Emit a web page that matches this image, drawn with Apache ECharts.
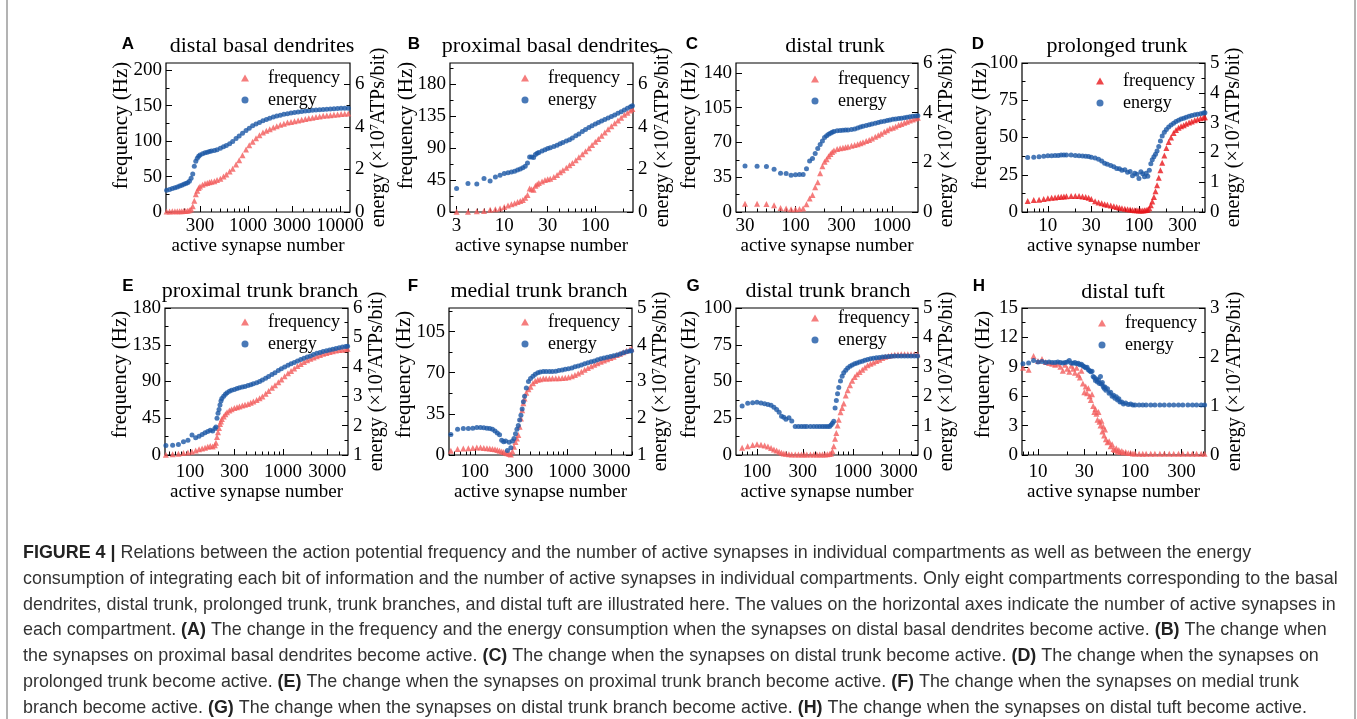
<!DOCTYPE html>
<html>
<head>
<meta charset="utf-8">
<title>Figure 4</title>
<style>
html, body { margin: 0; padding: 0; background: #fff; }
#main { width: 1357px; height: 719px; }
</style>
</head>
<body>
<div id="main"></div>
<script src="https://cdn.jsdelivr.net/npm/echarts@6/dist/echarts.min.js"></script>
<script>
// ---- data ----
var panelLetters = ['A', 'B', 'C', 'D', 'E', 'F', 'G', 'H'];
var panelTitles = ['distal basal dendrites', 'proximal basal dendrites', 'distal trunk', 'prolonged trunk',
    'proximal trunk branch', 'medial trunk branch', 'distal trunk branch', 'distal tuft'];

// A distal basal dendrites
var nA = [130,140,150,160,170,180,190,200,210,220,230,240,250,260,270,280,290,300,320,340,360,380,400,430,460,500,540,580,630,680,740,800,870,950,1030,1120,1220,1330,1450,1580,1720,1880,2050,2240,2450,2680,2930,3200,3500,3830,4190,4580,5010,5480,6000,6560,7180,7850,8590,9400,10280,11250,12300];
var freqA = [0.8,0.8,0.9,1.0,1.0,1.1,1.2,1.4,1.5,1.8,2.3,4,8,16,25,30,34,36,38.5,40,41,42,42.5,43.5,45,47,50,53,57,61,67,73,80,88,94,99,104,108,112,114.5,116.5,119,121,123,124.5,126,127,128,129,130,131,132,133,134,134.5,135.5,136,136.5,137,137.5,138,138.5,139];
var energyA = [1.02,1.06,1.10,1.14,1.18,1.22,1.26,1.30,1.34,1.38,1.45,1.58,1.78,2.15,2.38,2.52,2.62,2.68,2.74,2.78,2.81,2.84,2.86,2.89,2.93,2.99,3.06,3.13,3.21,3.31,3.45,3.57,3.70,3.83,3.94,4.05,4.13,4.21,4.29,4.35,4.41,4.46,4.51,4.55,4.59,4.62,4.65,4.68,4.70,4.72,4.74,4.76,4.78,4.79,4.80,4.82,4.83,4.84,4.85,4.86,4.87,4.88,4.88];

// B proximal basal dendrites
var nB = [3,4,5,6,7,8,9,10,11,12,13,14,15,16,17,18,19,20,21,22,23,24,26,28,30,32,35,38,41,44,48,52,56,61,66,72,78,85,92,100,108,117,127,138,150,163,177,192,208,225,243,255];
var freqB = [0.5,0.5,1,1.5,3,4,5,7,9,11,12.5,14,15.5,17,20,24,33,32,31.5,37,39,41,43,45,46,47,49.5,52,56,59,62.5,66,69,73,77,81.5,85.5,90,94.5,99,103,107.5,112,116.5,121,125,129,133,137,140,143,145];
var energyB = [1.10,1.34,1.31,1.57,1.46,1.65,1.73,1.81,1.84,1.88,1.92,1.97,2.02,2.08,2.15,2.30,2.58,2.58,2.56,2.70,2.76,2.80,2.86,2.93,2.98,3.02,3.08,3.14,3.21,3.27,3.33,3.40,3.48,3.58,3.67,3.78,3.87,3.97,4.05,4.13,4.20,4.28,4.35,4.42,4.49,4.56,4.64,4.71,4.79,4.87,4.95,4.99];

// C distal trunk
var nC = [30,40,50,60,70,80,90,100,110,120,130,140,150,160,170,180,190,200,210,220,230,240,250,270,290,310,330,350,380,410,440,470,500,540,580,620,670,720,770,830,890,950,1020,1090,1170,1250,1340,1430,1530,1640,1750,1850];
var freqC = [8.4,8.4,8.0,6.7,4.0,3.4,2.7,2.7,3.0,3.4,7.8,13.5,17,25,30,39,46,50.5,53,56,58.5,60.5,62,63.5,64.3,64.8,65.3,65.8,66.8,67.4,68.3,69.3,70.3,71.5,72.5,74,75.8,77.3,78.8,80.8,82.4,84,84.8,86,87.5,88.7,89.8,90.9,92.1,93.1,94.1,95];
var energyC = [1.85,1.84,1.83,1.72,1.56,1.55,1.48,1.50,1.51,1.51,1.74,2.05,2.15,2.36,2.56,2.72,2.86,3.0,3.07,3.13,3.17,3.21,3.24,3.27,3.28,3.29,3.30,3.30,3.32,3.34,3.38,3.42,3.45,3.48,3.51,3.54,3.57,3.60,3.63,3.65,3.68,3.70,3.73,3.75,3.77,3.78,3.80,3.82,3.84,3.86,3.87,3.88];

// D prolonged trunk
var nD = [5,6,7,8,9,10,11,12,13,14,15,16,18,20,22,24,26,28,30,33,36,39,42,45,49,53,57,61,65,70,75,80,85,90,95,100,105,110,115,120,125,130,135,140,146,152,158,165,172,180,190,200,212,225,240,255,272,290,310,330,355,380,410,440,475,510,530];
var freqD = [6,7.4,8,8.3,8.8,9.2,9.5,9.7,10,10.2,10.4,10.6,10.8,10.8,10.7,10.4,10.0,9.5,8.8,7.2,6.4,5.8,5.2,4.8,4.3,3.8,3.3,2.9,2.5,2.1,1.8,1.6,1.3,1.2,1.1,1.0,1.0,1.0,1.1,1.3,1.5,2.5,4.5,7,10,14,18,23,28,33,38,43,47,50,53,55,56.5,57.5,58.3,59.2,60,60.8,61.6,62.3,62.9,63.4,63.6];
var energyD = [1.80,1.83,1.84,1.85,1.87,1.89,1.89,1.90,1.90,1.91,1.91,1.91,1.91,1.90,1.89,1.88,1.87,1.86,1.84,1.81,1.77,1.71,1.64,1.60,1.56,1.52,1.46,1.45,1.40,1.42,1.33,1.36,1.22,1.30,1.27,1.12,1.35,1.28,1.18,1.30,1.20,1.40,1.62,1.75,1.85,1.94,2.05,2.20,2.38,2.55,2.68,2.77,2.85,2.92,2.98,3.04,3.08,3.12,3.15,3.18,3.21,3.24,3.26,3.28,3.30,3.32,3.33];

// E proximal trunk branch
var nE = [55,65,75,85,95,105,115,125,135,145,155,165,175,185,190,195,200,205,210,215,220,230,240,250,265,280,300,320,340,365,390,420,450,480,520,560,600,650,700,760,820,890,960,1040,1130,1220,1320,1430,1550,1680,1820,1970,2130,2310,2500,2700,2930,3170,3430,3710,4020,4350,4710,4950];
var freqE = [0.4,1.0,1.5,2.3,3.0,4.0,5.5,7.0,8.0,9.0,10.0,11.0,10.5,12.0,15,22,28,33,38,41,44,47,50,52.5,54.5,56,57.5,58.5,59.5,60.5,61.5,62.5,64,65.5,67.5,69.5,71.5,75,78.5,82.5,85.5,89,92.5,96.5,100,103,106,109,111.5,114,116,118,119.5,121,122.5,124,125,126,127,128,128.5,129,129.5,130];
var energyE = [1.32,1.33,1.36,1.45,1.50,1.68,1.59,1.64,1.70,1.76,1.80,1.84,1.82,1.90,1.95,2.25,2.42,2.55,2.70,2.84,2.92,3.00,3.07,3.12,3.17,3.20,3.23,3.26,3.29,3.31,3.33,3.36,3.39,3.42,3.46,3.50,3.55,3.61,3.67,3.74,3.80,3.87,3.93,3.99,4.05,4.10,4.15,4.20,4.25,4.29,4.33,4.37,4.42,4.46,4.49,4.52,4.55,4.57,4.60,4.62,4.65,4.67,4.69,4.70];

// F medial trunk branch
var nF = [55,65,75,85,95,105,115,125,135,145,155,165,175,185,195,205,215,225,235,245,255,265,275,285,295,305,315,325,335,345,360,380,400,425,450,480,510,550,590,640,690,750,810,880,950,1030,1120,1210,1310,1420,1540,1670,1810,1960,2120,2300,2490,2700,2930,3170,3440,3730,4040,4380,4750,4950];
var freqF = [3.7,5.1,5.6,5.7,5.9,6.3,6.3,6.0,5.8,5.5,5.1,4.8,4.3,3.6,3.0,2.5,2.0,1.4,0.9,0.5,3.0,7,11,14,17,24,31,38,44,48,53,56,58,61,63,64,64.5,65,65,65,65.2,65.2,65.3,65.4,65.6,66.2,67,68,69.2,70.8,72.5,74,75.5,76.8,78,79.3,80.4,81.4,82.4,83.6,85,86.2,87.4,88.6,89.7,90.3];
var energyF = [1.56,1.70,1.72,1.72,1.73,1.75,1.75,1.74,1.73,1.72,1.70,1.65,1.60,1.55,1.40,1.36,1.38,1.12,1.35,1.20,1.38,1.45,1.58,1.70,1.80,1.95,2.08,2.25,2.45,2.60,2.82,3.00,3.08,3.14,3.20,3.24,3.26,3.27,3.27,3.27,3.27,3.28,3.30,3.31,3.33,3.35,3.37,3.40,3.42,3.45,3.48,3.51,3.54,3.56,3.59,3.62,3.64,3.66,3.68,3.70,3.72,3.75,3.78,3.81,3.83,3.84];

// G distal trunk branch
var nG = [60,70,80,90,100,110,120,130,140,150,160,170,180,190,200,215,230,250,270,290,310,330,360,390,420,450,480,510,540,570,590,610,630,650,670,690,710,740,770,800,840,880,930,980,1040,1100,1170,1250,1330,1420,1520,1630,1750,1880,2020,2170,2340,2520,2720,2940,3180,3440,3720,4020,4350,4700];
var freqG = [5.7,5.0,6.0,6.8,7.3,7.0,6.4,5.8,4.8,3.8,3.0,2.2,1.6,1.0,0.8,0.5,0.4,0.4,0.4,0.4,0.4,0.4,0.4,0.4,0.4,0.4,0.4,0.4,0.5,0.6,1.0,2.5,6,11,15,20,24,29,32,35,40.5,44,47.5,50.5,53,55,56.5,58,59.5,61,62,63,64,64.8,66,66.8,67.4,67.9,68.2,68.4,68.5,68.5,68.5,68.5,68.5,68.5];
var energyG = [1.70,1.67,1.76,1.78,1.79,1.77,1.74,1.72,1.69,1.62,1.55,1.45,1.32,1.28,1.22,1.27,1.16,0.97,0.97,0.97,0.97,0.97,0.97,0.97,0.97,0.97,0.97,0.97,0.97,0.97,1.02,1.08,1.15,1.60,1.85,2.08,2.30,2.52,2.68,2.80,2.88,2.96,3.02,3.06,3.10,3.13,3.16,3.19,3.22,3.25,3.27,3.29,3.31,3.32,3.33,3.34,3.35,3.36,3.37,3.37,3.37,3.37,3.37,3.37,3.37,3.37];

// H distal tuft
var nH = [7,8,9,10,11,12,13,14,15,16,17,18,19,20,21,22,23,24,25,26,27,28,29,30,31,32,33,34,35,36,37,38,39,40,41,42,43,44,45,46,47,48,49,50,52,54,56,58,60,62,64,66,68,70,73,76,80,85,90,95,100,110,120,130,145,160,180,200,225,250,280,310,350,390,430,480,520];
var freqH = [8.9,8.7,10.1,9.6,9.8,9.5,9.4,9.3,9.2,9.3,9.0,8.6,9.2,8.8,8.5,9.1,8.8,8.4,8.9,8.2,7.9,8.6,7.3,6.4,7.0,6.3,6.8,6.0,5.6,6.2,5.0,4.4,4.7,4.2,3.6,4.4,3.4,3.0,3.5,2.4,2.9,2.0,2.6,1.6,1.3,1.4,0.9,1.1,0.6,0.5,0.7,0.35,0.5,0.3,0.4,0.25,0.3,0.2,0.2,0.15,0.15,0.12,0.12,0.12,0.12,0.12,0.12,0.12,0.12,0.12,0.12,0.12,0.12,0.12,0.12,0.12,0.12];
var energyH = [1.86,1.88,1.93,1.90,1.91,1.89,1.90,1.89,1.89,1.90,1.89,1.88,1.89,1.90,1.93,1.88,1.87,1.89,1.86,1.87,1.84,1.85,1.82,1.80,1.78,1.79,1.74,1.72,1.70,1.71,1.60,1.58,1.52,1.55,1.49,1.53,1.46,1.60,1.45,1.48,1.40,1.36,1.39,1.32,1.35,1.26,1.28,1.20,1.22,1.16,1.19,1.12,1.15,1.08,1.08,1.04,1.06,1.03,1.04,1.02,1.02,1.02,1.02,1.02,1.02,1.02,1.02,1.02,1.02,1.02,1.02,1.02,1.02,1.02,1.02,1.02,1.02];

var panelN = [nA, nB, nC, nD, nE, nF, nG, nH];
var panelFreq = [freqA, freqB, freqC, freqD, freqE, freqF, freqG, freqH];
var panelEnergy = [energyA, energyB, energyC, energyD, energyE, energyF, energyG, energyH];

// axes
var xRanges = [[128, 12840], [2.54, 259], [24.2, 1857], [5.2, 531], [53.8, 5000], [52.5, 5010], [60.4, 4750], [6.84, 525]];
var xTickLabels = [[300, 1000, 3000, 10000], [3, 10, 30, 100], [30, 100, 300, 1000], [10, 30, 100, 300],
    [100, 300, 1000, 3000], [100, 300, 1000, 3000], [100, 300, 1000, 3000], [10, 30, 100, 300]];
var freqRanges = [[0, 210], [0, 210], [0, 150], [0, 100], [0, 180], [0, 125], [0, 100], [0, 15]];
var freqTickLabels = [[0, 50, 100, 150, 200], [0, 45, 90, 135, 180], [0, 35, 70, 105, 140], [0, 25, 50, 75, 100],
    [0, 45, 90, 135, 180], [0, 35, 70, 105], [0, 25, 50, 75, 100], [0, 3, 6, 9, 12, 15]];
var energyRanges = [[0, 7], [0, 7], [0, 6], [0, 5], [1, 6], [1, 5], [0, 5], [0, 3]];
var energyTickLabels = [[0, 2, 4, 6], [0, 2, 4, 6], [0, 2, 4, 6], [0, 1, 2, 3, 4, 5],
    [1, 2, 3, 4, 5, 6], [1, 2, 3, 4, 5], [0, 1, 2, 3, 4, 5], [0, 1, 2, 3]];

var captionLines = [
    '{b|FIGURE 4 |} Relations between the action potential frequency and the number of active synapses in individual compartments as well as between the energy',
    'consumption of integrating each bit of information and the number of active synapses in individual compartments. Only eight compartments corresponding to the basal',
    'dendrites, distal trunk, prolonged trunk, trunk branches, and distal tuft are illustrated here. The values on the horizontal axes indicate the number of active synapses in',
    'each compartment. {b|(A)} The change in the frequency and the energy consumption when the synapses on distal basal dendrites become active. {b|(B)} The change when',
    'the synapses on proximal basal dendrites become active. {b|(C)} The change when the synapses on distal trunk become active. {b|(D)} The change when the synapses on',
    'prolonged trunk become active. {b|(E)} The change when the synapses on proximal trunk branch become active. {b|(F)} The change when the synapses on medial trunk',
    'branch become active. {b|(G)} The change when the synapses on distal trunk branch become active. {b|(H)} The change when the synapses on distal tuft become active.'
];

// ---- layout (pixels) ----
var boxes = [[166, 63, 184, 149], [450, 63, 183, 149], [736, 63, 182, 149], [1022, 63, 183, 149],
    [165, 308, 183, 147], [449, 308, 183, 147], [736, 308, 182, 147], [1022, 308, 183, 147]];
var titlePos = [[262, 46], [550, 46], [835, 46], [1117, 46], [260, 291], [539, 291], [828, 291], [1123, 292]];
var letterPos = [[128, 44], [414, 44], [692, 44], [978, 44], [128, 286], [413, 286], [693, 286], [979, 286]];
var legendIconPos = [[245, 69], [525, 69], [815, 70], [1100, 72], [245, 313], [525, 313], [815, 309], [1102, 314]];
var leftNameGap = [34, 33, 36, 31, 34, 34, 36, 28];
var leftNameLift = [24, 24, 24, 24, 14, 14, 14, 14];
var rightNameGap = [17, 20, 17, 18, 19, 18, 17, 20];

var SERIF = "'Liberation Serif', 'Times New Roman', serif";
var SANS = "'Liberation Sans', Arial, sans-serif";
var RED = '#f25c5c', RED_D = '#e8161c', BLUE = '#1c57a5';

function minorLog(lo, hi, majors) {
    var out = [];
    for (var d = Math.floor(Math.log10(lo)); d <= Math.ceil(Math.log10(hi)); d++) {
        for (var m = 1; m <= 9; m++) {
            var v = m * Math.pow(10, d);
            if (v > lo && v < hi && majors.indexOf(v) < 0) out.push(Math.log10(v));
        }
    }
    return out;
}
function minorLin(ticks, max) {
    var step = ticks[1] - ticks[0], out = [];
    for (var v = ticks[0] + step / 2; v < max - 1e-9; v += step) out.push(v);
    return out;
}
function logLabel(v) { return String(Math.round(Math.pow(10, v))); }

var grids = [], xAxes = [], yAxes = [], series = [], legends = [], graphics = [];
var tickLine = { color: '#000', width: 1 };

for (var i = 0; i < 8; i++) {
    var b = boxes[i];
    var row2 = i >= 4;
    grids.push({ left: b[0], top: b[1], width: b[2], height: b[3], show: true,
        borderColor: '#000', borderWidth: 1.2, backgroundColor: 'transparent' });

    var xmin = Math.log10(xRanges[i][0]), xmax = Math.log10(xRanges[i][1]);
    var xMaj = xTickLabels[i].map(Math.log10);
    var xi = xAxes.length;
    xAxes.push({
        gridIndex: i, type: 'value', position: 'bottom', min: xmin, max: xmax,
        name: 'active synapse number', nameLocation: 'middle', nameGap: row2 ? 25 : 21,
        nameTextStyle: { fontFamily: SERIF, fontSize: 19, color: '#000' },
        axisLine: { show: false, onZero: false }, splitLine: { show: false },
        axisTick: { inside: true, length: 6, customValues: xMaj, lineStyle: tickLine },
        axisLabel: { customValues: xMaj, formatter: logLabel, margin: row2 ? 8 : 5,
            fontFamily: SERIF, fontSize: 19, color: '#000' }
    });
    xAxes.push({
        gridIndex: i, type: 'value', position: 'bottom', min: xmin, max: xmax,
        axisLine: { show: false, onZero: false }, splitLine: { show: false }, axisLabel: { show: false },
        axisTick: { inside: true, length: 3.5, customValues: minorLog(xRanges[i][0], xRanges[i][1], xTickLabels[i]), lineStyle: tickLine }
    });

    var fr = freqRanges[i], er = energyRanges[i];
    var yiF = yAxes.length;
    yAxes.push({
        gridIndex: i, type: 'value', position: 'left', min: fr[0], max: fr[1],
        name: 'frequency (Hz)', nameLocation: 'middle', nameRotate: 90, nameGap: leftNameGap[i],
        nameMoveOverlap: false,
        nameTextStyle: { fontFamily: SERIF, fontSize: 21, color: '#000', padding: [0, 0, 0, leftNameLift[i]] },
        axisLine: { show: false, onZero: false }, splitLine: { show: false },
        axisTick: { inside: true, length: 6, customValues: freqTickLabels[i], lineStyle: tickLine },
        axisLabel: { customValues: freqTickLabels[i], margin: 4, fontFamily: SERIF, fontSize: 19, color: '#000' }
    });
    yAxes.push({
        gridIndex: i, type: 'value', position: 'left', min: fr[0], max: fr[1],
        axisLine: { show: false, onZero: false }, splitLine: { show: false }, axisLabel: { show: false },
        axisTick: { inside: true, length: 3.5, customValues: minorLin(freqTickLabels[i], fr[1]), lineStyle: tickLine }
    });
    var yiE = yAxes.length;
    yAxes.push({
        gridIndex: i, type: 'value', position: 'right', min: er[0], max: er[1],
        name: 'energy (×10{s|7}ATPs/bit)', nameLocation: 'middle', nameRotate: 90, nameGap: rightNameGap[i],
        nameTextStyle: { fontFamily: SERIF, fontSize: 20, color: '#000',
            rich: { s: { fontFamily: SERIF, fontSize: 12, color: '#000', verticalAlign: 'top' } } },
        axisLine: { show: false, onZero: false }, splitLine: { show: false },
        axisTick: { inside: true, length: 6, customValues: energyTickLabels[i], lineStyle: tickLine },
        axisLabel: { customValues: energyTickLabels[i], margin: 5, fontFamily: SERIF, fontSize: 19, color: '#000' }
    });
    yAxes.push({
        gridIndex: i, type: 'value', position: 'right', min: er[0], max: er[1],
        axisLine: { show: false, onZero: false }, splitLine: { show: false }, axisLabel: { show: false },
        axisTick: { inside: true, length: 3.5, customValues: minorLin(energyTickLabels[i], er[1]), lineStyle: tickLine }
    });

    var red = i === 3 ? RED_D : RED;
    var ns = panelN[i], fs = panelFreq[i], es = panelEnergy[i];
    if (ns.length !== fs.length || ns.length !== es.length) console.log('length mismatch', panelLetters[i], ns.length, fs.length, es.length);
    series.push({
        type: 'scatter', name: 'frequency', xAxisIndex: xi, yAxisIndex: yiF,
        symbol: 'triangle', symbolSize: 6, itemStyle: { color: red }, silent: true,
        data: ns.map(function (n, k) { return [Math.log10(n), fs[k]]; })
    });
    series.push({
        type: 'scatter', name: 'energy', xAxisIndex: xi, yAxisIndex: yiE,
        symbol: 'circle', symbolSize: 5, itemStyle: { color: BLUE }, silent: true,
        data: ns.map(function (n, k) { return [Math.log10(n), es[k]]; })
    });

    legends.push({
        left: legendIconPos[i][0] - 4, top: legendIconPos[i][1], orient: 'vertical', selectedMode: false,
        itemWidth: 8, itemHeight: 7, itemGap: 4, padding: 0,
        textStyle: { fontFamily: SERIF, fontSize: 18, color: '#000', padding: [0, 0, 0, 14] },
        data: [{ name: 'frequency', icon: 'triangle', itemStyle: { color: red } },
               { name: 'energy', icon: 'circle', itemStyle: { color: BLUE } }]
    });

    graphics.push({ type: 'text', x: letterPos[i][0], y: letterPos[i][1], silent: true,
        style: { text: panelLetters[i], fontFamily: SANS, fontWeight: 'bold', fontSize: 17, fill: '#000',
            align: 'center', verticalAlign: 'middle' } });
    graphics.push({ type: 'text', x: titlePos[i][0], y: titlePos[i][1], silent: true,
        style: { text: panelTitles[i], fontFamily: SERIF, fontSize: 22, fill: '#000',
            align: 'center', verticalAlign: 'middle' } });
}

// caption
captionLines.forEach(function (line, k) {
    graphics.push({ type: 'text', x: 23, y: 553 + k * 25.8, silent: true,
        style: { text: line, fontFamily: SANS, fontSize: 17.9, fill: '#333', verticalAlign: 'middle',
            rich: { b: { fontFamily: SANS, fontSize: 17.9, fontWeight: 'bold', fill: '#222' } } } });
});
graphics.push({ type: 'line', silent: true, shape: { x1: 7, y1: 0, x2: 7, y2: 719 }, style: { stroke: '#9a9a9a', lineWidth: 1.5 } });
graphics.push({ type: 'line', silent: true, shape: { x1: 1355, y1: 0, x2: 1355, y2: 719 }, style: { stroke: '#9a9a9a', lineWidth: 1.5 } });

var myChart = echarts.init(document.getElementById('main'));
myChart.setOption({
    backgroundColor: '#fff',
    animation: false,
    textStyle: { fontFamily: SERIF },
    grid: grids,
    xAxis: xAxes,
    yAxis: yAxes,
    legend: legends,
    series: series,
    graphic: graphics
});
</script>
</body>
</html>
